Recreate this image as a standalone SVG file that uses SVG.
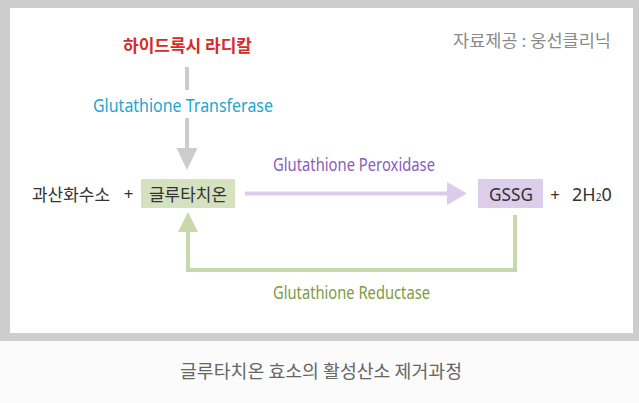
<svg xmlns="http://www.w3.org/2000/svg" width="639" height="403" viewBox="0 0 639 403">
<defs>
<style>
.kr{font-family:"Noto Sans CJK KR","Noto Sans",sans-serif;font-weight:400;}
.en{font-family:"Noto Sans","Liberation Sans",sans-serif;font-weight:400;}
.bold{font-weight:700;}
.dark{fill:#333333;}
</style>
</defs>
<rect x="0" y="0" width="639" height="403" fill="#fbfbfb"/>
<rect x="0" y="0" width="639" height="341" fill="#cdcdcd"/>
<rect x="10" y="8" width="623" height="325" fill="#ffffff"/>

<g id="connectors" fill="none" stroke-width="4">
  <line x1="187" y1="67" x2="187" y2="90" stroke="#cccccc"/>
  <line x1="187" y1="118" x2="187" y2="150" stroke="#cccccc"/>
  <polygon points="176.5,148 197.5,148 187,170" fill="#cccccc" stroke="none"/>
  <line x1="245" y1="193.5" x2="449" y2="193.5" stroke="#ddcbeb"/>
  <polygon points="447,182 467,193.5 447,205" fill="#ddcbeb" stroke="none"/>
  <polyline points="515,215 515,270 188,270 188,230" stroke="#c9d8ab"/>
  <polygon points="178,232 198,232 188,212" fill="#c9d8ab" stroke="none"/>
</g>

<g id="radical">
  <text x="123" y="52" class="kr bold" font-size="17" fill="#d42b2b" textLength="129" lengthAdjust="spacingAndGlyphs">하이드록시 라디칼</text>
</g>
<g id="source">
  <text x="453" y="47" class="kr" font-size="16.5" fill="#8a8a8a" textLength="158" lengthAdjust="spacingAndGlyphs">자료제공 : 웅선클리닉</text>
</g>
<g id="transferase">
  <text x="93" y="112" class="en" font-size="18" fill="#22a6d0" textLength="180" lengthAdjust="spacingAndGlyphs">Glutathione Transferase</text>
</g>
<g id="h2o2">
  <text x="32" y="201" class="kr dark" font-size="17.5" textLength="78" lengthAdjust="spacingAndGlyphs">과산화수소</text>
  <text x="128.5" y="200" class="en dark" font-size="17" text-anchor="middle">+</text>
</g>
<g id="glutathione">
  <rect x="141" y="179" width="94" height="29" fill="#d6e1c0"/>
  <text x="149" y="201" class="kr dark" font-size="17.5" textLength="78" lengthAdjust="spacingAndGlyphs">글루타치온</text>
</g>
<g id="peroxidase">
  <text x="273" y="171" class="en" font-size="18" fill="#8d5bb8" textLength="162" lengthAdjust="spacingAndGlyphs">Glutathione Peroxidase</text>
</g>
<g id="gssg">
  <rect x="478" y="179" width="65" height="29" fill="#dccdea"/>
  <text x="489" y="201" class="en dark" font-size="18" textLength="44" lengthAdjust="spacingAndGlyphs">GSSG</text>
</g>
<g id="water">
  <text x="555" y="201" class="en dark" font-size="17" text-anchor="middle">+</text>
  <text x="572" y="201" class="en dark" font-size="18">2H<tspan font-size="10">2</tspan>0</text>
</g>
<g id="reductase">
  <text x="273" y="299" class="en" font-size="18" fill="#7d9b43" textLength="157" lengthAdjust="spacingAndGlyphs">Glutathione Reductase</text>
</g>
<g id="caption">
  <text x="180" y="378" class="kr" font-size="18" fill="#666666" textLength="282" lengthAdjust="spacingAndGlyphs">글루타치온 효소의 활성산소 제거과정</text>
</g>
</svg>
